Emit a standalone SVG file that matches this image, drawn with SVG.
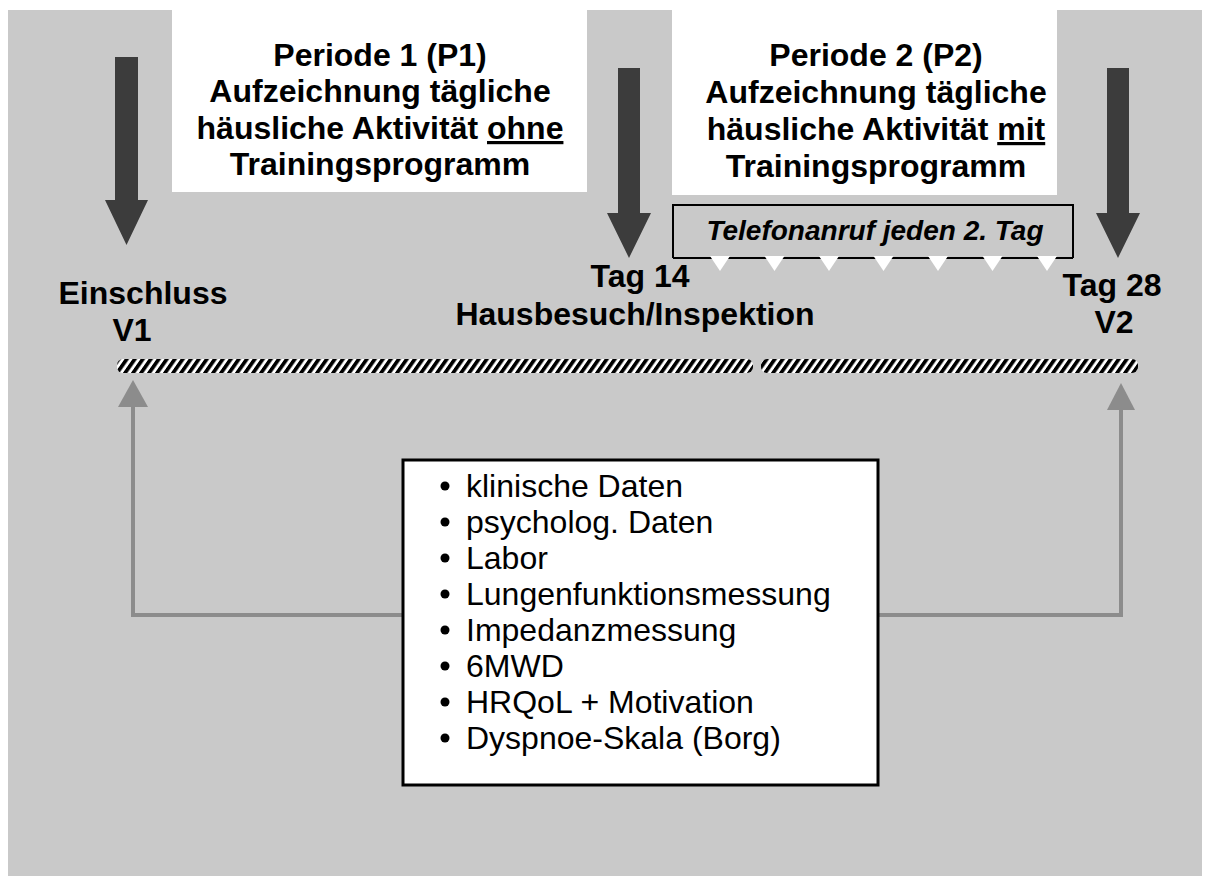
<svg xmlns="http://www.w3.org/2000/svg" width="1208" height="881" viewBox="0 0 1208 881">
<defs>
<pattern id="hatch" patternUnits="userSpaceOnUse" width="8" height="16" patternTransform="skewX(-35)">
<rect x="0" y="0" width="8" height="16" fill="#ffffff"/>
<rect x="0" y="0" width="4.5" height="16" fill="#000000"/>
</pattern>
<style>
.bg{fill:#c9c9c9}
.white{fill:#ffffff}
.big{fill:#3c3c3c}
.gray{fill:#8c8c8c}
.grayline{stroke:#8c8c8c;stroke-width:4;fill:none}
.t{font-family:"Liberation Sans",Arial,sans-serif;font-weight:bold;font-size:32px;fill:#000;text-anchor:middle}
.it{font-family:"Liberation Sans",Arial,sans-serif;font-weight:bold;font-style:italic;font-size:28px;fill:#000;text-anchor:middle}
.li{font-family:"Liberation Sans",Arial,sans-serif;font-size:32px;fill:#000}
.box{fill:#ffffff;stroke:#000;stroke-width:3}
</style>
</defs>
<rect x="0" y="0" width="1208" height="881" fill="#ffffff"/>
<rect class="bg" x="8" y="10" width="1194" height="866"/>

<g id="period1">
<rect class="white" x="172" y="0" width="415" height="192"/>
<text class="t" x="380" y="66">Periode 1 (P1)</text>
<text class="t" x="380" y="102">Aufzeichnung tägliche</text>
<text class="t" x="380" y="139">häusliche Aktivität <tspan text-decoration="underline">ohne</tspan></text>
<text class="t" x="380" y="175">Trainingsprogramm</text>
</g>

<g id="period2">
<rect class="white" x="672" y="0" width="385" height="195"/>
<text class="t" x="876" y="66">Periode 2 (P2)</text>
<text class="t" x="876" y="103">Aufzeichnung tägliche</text>
<text class="t" x="876" y="140">häusliche Aktivität <tspan text-decoration="underline">mit</tspan></text>
<text class="t" x="876" y="177">Trainingsprogramm</text>
</g>

<g id="arrow-v1">
<polygon class="big" points="115,57 138,57 138,200 148,200 126.5,245 105,200 115,200"/>
</g>
<g id="arrow-tag14">
<polygon class="big" points="618,68 640,68 640,213 651,213 629,258 607,213 618,213"/>
</g>
<g id="arrow-v2">
<polygon class="big" points="1107,68 1129,68 1129,213 1140,213 1118,258 1096,213 1107,213"/>
</g>

<g id="telefon">
<path d="M673,258 L673,205 L1073,205 L1073,258" fill="none" stroke="#000" stroke-width="2"/>
<line x1="673" y1="258" x2="1073" y2="258" stroke="#000" stroke-width="2"/>
<g fill="#ffffff">
<polygon points="710,256 730,256 720,271"/>
<polygon points="764.5,256 784.5,256 774.5,271"/>
<polygon points="819,256 839,256 829,271"/>
<polygon points="873.5,256 893.5,256 883.5,271"/>
<polygon points="928,256 948,256 938,271"/>
<polygon points="982.5,256 1002.5,256 992.5,271"/>
<polygon points="1037,256 1057,256 1047,271"/>
</g>
<text class="it" x="875" y="240">Telefonanruf jeden 2. Tag</text>
</g>

<g id="label-v1">
<text class="t" x="143" y="304">Einschluss</text>
<text class="t" x="132" y="341">V1</text>
</g>
<g id="label-tag14">
<text class="t" x="640" y="287">Tag 14</text>
<text class="t" x="635" y="325">Hausbesuch/Inspektion</text>
</g>
<g id="label-v2">
<text class="t" x="1112" y="296">Tag 28</text>
<text class="t" x="1114" y="333">V2</text>
</g>

<g id="timeline">
<rect x="117" y="359" width="636" height="14" rx="6" fill="url(#hatch)"/>
<rect x="761" y="359" width="377" height="14" rx="6" fill="url(#hatch)"/>
</g>

<g id="connectors">
<polyline class="grayline" points="403,615 133,615 133,405"/>
<polygon class="gray" points="118,407 148,407 133,380"/>
<polyline class="grayline" points="878,615 1121,615 1121,408"/>
<polygon class="gray" points="1107,410 1135,410 1121,383"/>
</g>

<g id="measurements">
<rect class="box" x="403" y="460" width="475" height="325"/>
<g fill="#000">
<circle cx="445" cy="486" r="4.5"/>
<circle cx="445" cy="522" r="4.5"/>
<circle cx="445" cy="558" r="4.5"/>
<circle cx="445" cy="594" r="4.5"/>
<circle cx="445" cy="630" r="4.5"/>
<circle cx="445" cy="666" r="4.5"/>
<circle cx="445" cy="702" r="4.5"/>
<circle cx="445" cy="738" r="4.5"/>
</g>
<text class="li" x="466" y="497">klinische Daten</text>
<text class="li" x="466" y="533">psycholog. Daten</text>
<text class="li" x="466" y="569">Labor</text>
<text class="li" x="466" y="605">Lungenfunktionsmessung</text>
<text class="li" x="466" y="641">Impedanzmessung</text>
<text class="li" x="466" y="677">6MWD</text>
<text class="li" x="466" y="713">HRQoL + Motivation</text>
<text class="li" x="466" y="749">Dyspnoe-Skala (Borg)</text>
</g>
</svg>
